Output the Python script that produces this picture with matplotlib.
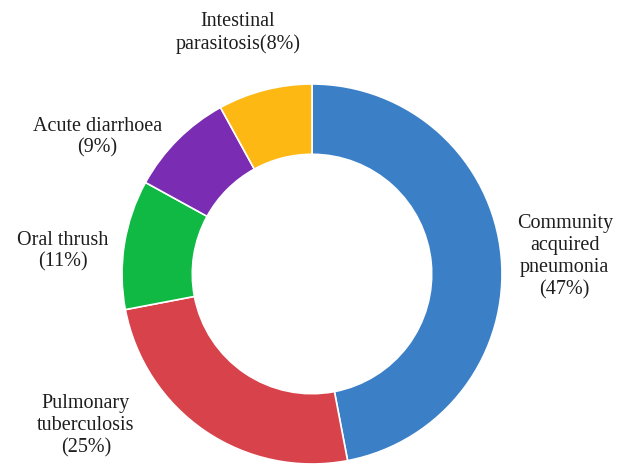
import matplotlib
matplotlib.use("Agg")
import matplotlib.pyplot as plt

# Distribution of diagnoses
categories = ["Community\nacquired\npneumonia", "Pulmonary\ntuberculosis",
              "Oral thrush", "Acute diarrhoea", "Intestinal\nparasitosis"]
shares = [47, 25, 11, 9, 8]
colors = ["#3b7fc7", "#d8434b", "#10b944", "#7a2db2", "#fdb814"]

# label text layout: percentage placement and anchor positions (data units)
pct_inline = [False, False, False, False, True]
label_pos = [(1.33, 0.09), (-1.19, -0.80), (-1.31, 0.12), (-1.13, 0.72), (-0.39, 1.27)]

W, H = 621, 467
fig = plt.figure(figsize=(W / 100, H / 100), dpi=100)
cx, cy, r = 312, 274, 190
ax = fig.add_axes([(cx - r) / W, (H - cy - r) / H, 2 * r / W, 2 * r / H])

ax.pie(shares, colors=colors, startangle=90, counterclock=False, radius=1.0,
       wedgeprops=dict(width=0.37, edgecolor="white", linewidth=1.2))
ax.set_xlim(-1, 1)
ax.set_ylim(-1, 1)
ax.set_aspect("equal")
ax.axis("off")

for name, val, inline, (x, y) in zip(categories, shares, pct_inline, label_pos):
    txt = f"{name}({val}%)" if inline else f"{name}\n({val}%)"
    ax.text(x, y, txt, ha="center", va="center", fontsize=14.5,
            family="Liberation Serif", linespacing=1.22, color="#1e1e1e")

fig.savefig("out.png", dpi=100)
